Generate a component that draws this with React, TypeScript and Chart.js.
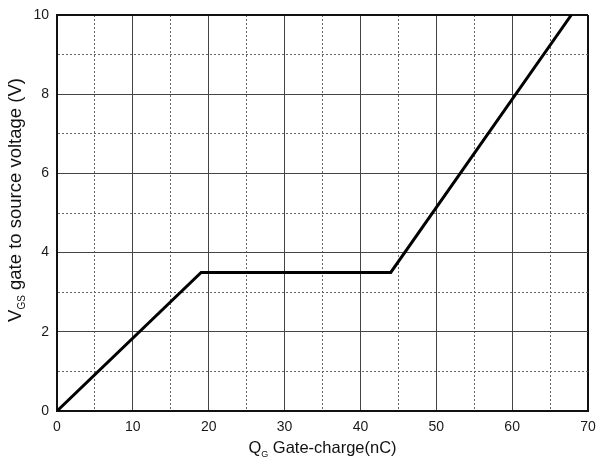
import React, { useEffect, useRef } from 'react';
import { Chart, registerables } from 'chart.js';

Chart.register(...registerables);

// Gate charge curve (nC) vs gate-source voltage (V)
const chargeNC = [0, 19, 44, 67.8];
const vgsV = [0, 3.5, 3.5, 10];

const xMin = 0;
const xMax = 70;
const xMajorStep = 10;
const xMinorStep = 5;
const yMin = 0;
const yMax = 10;
const yMajorStep = 2;
const yMinorStep = 1;

const xTitleParts = [
  { text: 'Q', sub: false },
  { text: 'G', sub: true },
  { text: ' Gate-charge(nC)', sub: false },
];
const yTitleParts = [
  { text: 'V', sub: false },
  { text: 'GS', sub: true },
  { text: ' gate to source voltage (V)', sub: false },
];

const FONT_FAMILY = '"Liberation Sans", Arial, Helvetica, sans-serif';

type Part = { text: string; sub: boolean };

function measureParts(ctx: CanvasRenderingContext2D, parts: Part[], big: number, small: number) {
  let w = 0;
  for (const p of parts) {
    ctx.font = `${p.sub ? small : big}px ${FONT_FAMILY}`;
    w += ctx.measureText(p.text).width;
  }
  return w;
}

function drawParts(ctx: CanvasRenderingContext2D, parts: Part[], x: number, y: number, big: number, small: number) {
  let cx = x;
  ctx.textAlign = 'left';
  ctx.textBaseline = 'alphabetic';
  for (const p of parts) {
    ctx.font = `${p.sub ? small : big}px ${FONT_FAMILY}`;
    ctx.fillText(p.text, cx, p.sub ? y + 4 : y);
    cx += ctx.measureText(p.text).width;
  }
}

const titlePlugin = {
  id: 'subscriptTitles',
  afterDraw(chart: any) {
    const { ctx, chartArea } = chart;
    ctx.save();
    ctx.fillStyle = '#111';
    // X title
    const wx = measureParts(ctx, xTitleParts, 16.5, 9);
    const cx = (chartArea.left + chartArea.right) / 2;
    drawParts(ctx, xTitleParts, cx - wx / 2, chartArea.bottom + 42, 16.5, 9);
    // Y title
    const wy = measureParts(ctx, yTitleParts, 18.5, 10);
    const cy = (chartArea.top + chartArea.bottom) / 2 - 13;
    ctx.translate(21, cy);
    ctx.rotate(-Math.PI / 2);
    drawParts(ctx, yTitleParts, -wy / 2, 0, 18.5, 10);
    ctx.restore();
  },
};

export default function App() {
  const canvasRef = useRef<HTMLCanvasElement | null>(null);

  useEffect(() => {
    if (!canvasRef.current) return;
    const tickFont = { family: FONT_FAMILY, size: 14 };
    const chart = new Chart(canvasRef.current, {
      type: 'line',
      data: {
        datasets: [
          {
            data: chargeNC.map((x, i) => ({ x, y: vgsV[i] })),
            borderColor: '#000',
            borderWidth: 3,
            pointRadius: 0,
            tension: 0,
            fill: false,
          },
        ],
      },
      options: {
        responsive: false,
        animation: false,
        layout: { padding: { top: 15, right: 9, left: 0, bottom: 0 } },
        plugins: { legend: { display: false }, tooltip: { enabled: false }, title: { display: false } },
        scales: {
          x: {
            type: 'linear',
            min: xMin,
            max: xMax,
            afterFit: (s: any) => {
              s.height = 50;
              s.paddingLeft = 0;
              s.paddingRight = 0;
            },
            ticks: {
              stepSize: xMinorStep,
              autoSkip: false,
              maxRotation: 0,
              padding: 8,
              color: '#1a1a1a',
              font: tickFont,
              callback: (v: any) => (Number(v) % xMajorStep === 0 ? String(v) : ''),
            },
            grid: {
              drawTicks: false,
              color: (c: any) =>
                c.tick && c.tick.value % xMajorStep !== 0 ? '#666' : c.tick && c.tick.value === xMax ? '#111' : '#444',
              lineWidth: (c: any) => (c.tick && c.tick.value === xMax ? 2 : 1),
            },
            border: {
              display: true,
              color: '#111',
              width: 2,
              dash: (c: any) => (c.tick && c.tick.value % xMajorStep !== 0 ? [2, 2] : []),
            },
          },
          y: {
            type: 'linear',
            min: yMin,
            max: yMax,
            afterFit: (s: any) => {
              s.width = 57;
              s.paddingTop = 0;
              s.paddingBottom = 0;
            },
            ticks: {
              stepSize: yMinorStep,
              autoSkip: false,
              padding: 8,
              color: '#1a1a1a',
              font: tickFont,
              callback: (v: any) => (Number(v) % yMajorStep === 0 ? String(v) : ''),
            },
            grid: {
              drawTicks: false,
              color: (c: any) =>
                c.tick && c.tick.value % yMajorStep !== 0 ? '#666' : c.tick && c.tick.value === yMax ? '#111' : '#444',
              lineWidth: (c: any) => (c.tick && c.tick.value === yMax ? 2 : 1),
            },
            border: {
              display: true,
              color: '#111',
              width: 2,
              dash: (c: any) => (c.tick && c.tick.value % yMajorStep !== 0 ? [2, 2] : []),
            },
          },
        },
      },
      plugins: [titlePlugin],
    });
    return () => chart.destroy();
  }, []);

  return (
    <div style={{ position: 'absolute', left: 0, top: 0, width: 597, height: 461, background: '#fff' }}>
      <canvas ref={canvasRef} width={597} height={461} style={{ display: 'block' }} />
    </div>
  );
}
